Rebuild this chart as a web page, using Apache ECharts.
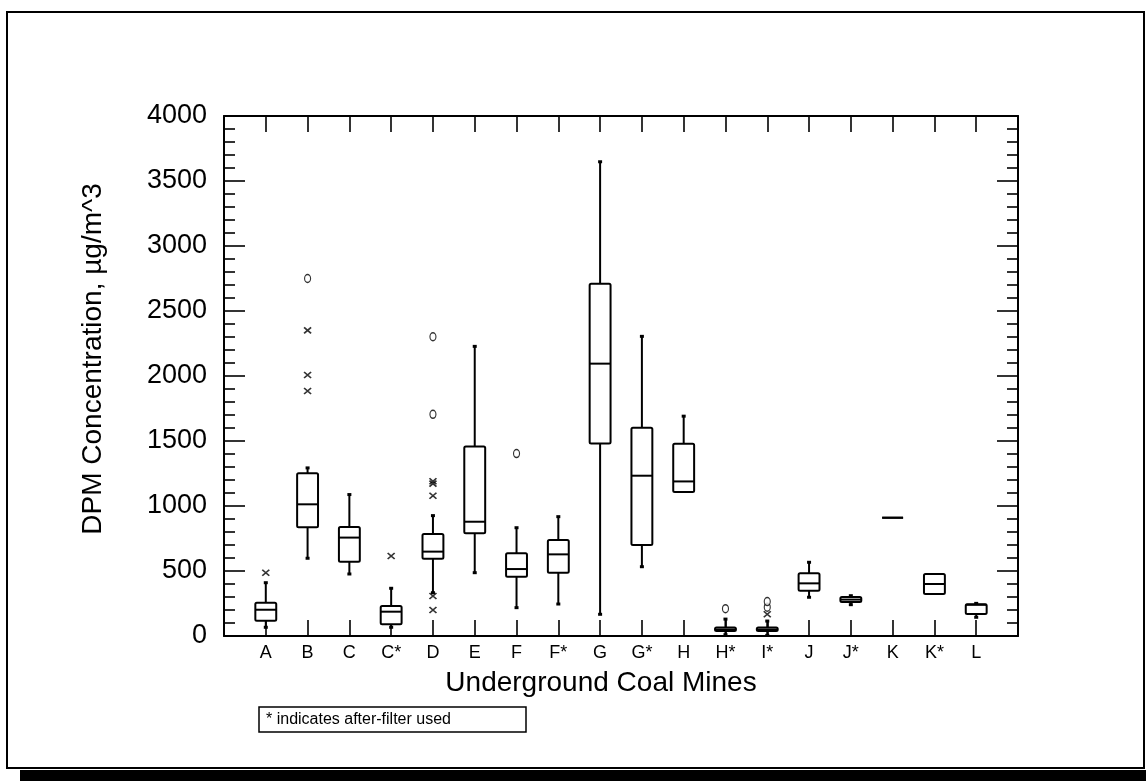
<!DOCTYPE html>
<html>
<head>
<meta charset="utf-8">
<script src="https://cdn.jsdelivr.net/npm/echarts@6/dist/echarts.min.js"></script>
<style>
html,body{margin:0;padding:0;background:#fff;}
#chart{width:1146px;height:781px;}
</style>
</head>
<body>
<div id="chart"></div>
<script>
// ---- data ----
const categories = ['A','B','C','C*','D','E','F','F*','G','G*','H','H*','I*','J','J*','K','K*','L'];
const lowWhisker  = [67, 598, 477, 67, 333, 487, 218, 246, 167, 533, 1107, 10, 5, 298, 241, 910, 323, 144];
const q1          = [118, 836, 572, 90, 595, 790, 456, 487, 1480, 700, 1107, 38, 38, 349, 262, 910, 323, 169];
const median      = [202, 1013, 757, 187, 649, 879, 515, 628, 2095, 1233, 1189, 50, 50, 405, 280, 910, 400, 240];
const q3          = [256, 1252, 838, 231, 785, 1458, 636, 738, 2709, 1601, 1478, 65, 65, 482, 300, 910, 477, 244];
const highWhisker = [410, 1293, 1088, 367, 926, 2228, 833, 918, 3648, 2305, 1691, 130, 115, 567, 310, 910, 477, 251];
// outliers: [category name, value]
const mildOutliers = [['A',487],['B',2351],['B',2008],['B',1885],['C*',615],['D',1190],['D',1172],['D',1079],['D',308],['D',200],['I*',168]];
const extremeOutliers = [['B',2750],['D',2302],['D',1705],['F',1403],['H*',210],['I*',222],['I*',265]];
const yTicks = {min:0, max:4000, interval:500};

const FONT = '"Liberation Sans", Arial, Helvetica, sans-serif';
const chart = echarts.init(document.getElementById('chart'), null, {renderer:'canvas'});

const boxData = categories.map((c,i)=>[i+1, lowWhisker[i], q1[i], median[i], q3[i], highWhisker[i]]);
const pos = name => categories.indexOf(name)+1;

function renderBox(params, api){
  const x = api.value(0);
  const lo = api.coord([x, api.value(1)]);
  const b1 = api.coord([x, api.value(2)]);
  const md = api.coord([x, api.value(3)]);
  const b3 = api.coord([x, api.value(4)]);
  const hi = api.coord([x, api.value(5)]);
  const cx = lo[0];
  const hw = api.size([1,0])[0]*0.25;
  const st = {stroke:'#000', lineWidth:2, fill:'none'};
  const kids = [];
  if (hi[1] < b3[1]-0.5){
    kids.push({type:'line', shape:{x1:cx,y1:b3[1],x2:cx,y2:hi[1]}, style:st});
    kids.push({type:'line', shape:{x1:cx-2,y1:hi[1],x2:cx+2,y2:hi[1]}, style:{stroke:'#000',lineWidth:3}});
  }
  if (lo[1] > b1[1]+0.5){
    kids.push({type:'line', shape:{x1:cx,y1:b1[1],x2:cx,y2:lo[1]}, style:st});
    kids.push({type:'line', shape:{x1:cx-2,y1:lo[1],x2:cx+2,y2:lo[1]}, style:{stroke:'#000',lineWidth:3}});
  }
  kids.push({type:'rect', shape:{x:cx-hw, y:b3[1], width:2*hw, height:b1[1]-b3[1], r:1.5}, style:{stroke:'#000', lineWidth:2, fill:'#fff'}});
  kids.push({type:'line', shape:{x1:cx-hw,y1:md[1],x2:cx+hw,y2:md[1]}, style:st});
  return {type:'group', children:kids};
}

const tickFmt = v => (v>=1 && v<=categories.length) ? categories[v-1] : '';
const axisLineStyle = {color:'#000', width:2};

chart.setOption({
  backgroundColor:'#fff',
  animation:false,
  grid:{left:224, right:128, top:116, bottom:145, outerBoundsMode:'none'},
  xAxis:[
    {type:'value', position:'bottom', min:0, max:categories.length+1, interval:1,
     axisLine:{show:true, onZero:false, lineStyle:axisLineStyle},
     axisTick:{show:true, inside:true, length:16, lineStyle:{color:'#000', width:1.6}},
     axisLabel:{formatter:tickFmt, color:'#000', fontFamily:FONT, fontSize:18, margin:8},
     splitLine:{show:false}},
    {type:'value', position:'top', min:0, max:categories.length+1, interval:1,
     axisLine:{show:true, onZero:false, lineStyle:axisLineStyle},
     axisTick:{show:true, inside:true, length:16, lineStyle:{color:'#000', width:1.6}},
     axisLabel:{show:false}, splitLine:{show:false}}
  ],
  yAxis:[
    {type:'value', position:'left', min:yTicks.min, max:yTicks.max, interval:yTicks.interval,
     axisLine:{show:true, onZero:false, lineStyle:axisLineStyle},
     axisTick:{show:true, inside:true, length:21, lineStyle:{color:'#000', width:1.6}},
     minorTick:{show:true, splitNumber:5, length:11, lineStyle:{color:'#000', width:1.6}},
     axisLabel:{color:'#000', fontFamily:FONT, fontSize:27, margin:17, formatter:v=>String(v)},
     splitLine:{show:false}, minorSplitLine:{show:false}},
    {type:'value', position:'right', min:yTicks.min, max:yTicks.max, interval:yTicks.interval,
     axisLine:{show:true, onZero:false, lineStyle:axisLineStyle},
     axisTick:{show:true, inside:true, length:21, lineStyle:{color:'#000', width:1.6}},
     minorTick:{show:true, splitNumber:5, length:11, lineStyle:{color:'#000', width:1.6}},
     axisLabel:{show:false}, splitLine:{show:false}, minorSplitLine:{show:false}}
  ],
  series:[
    {type:'custom', name:'box', xAxisIndex:0, yAxisIndex:0, renderItem:renderBox, data:boxData, clip:false, z:3},
    {type:'scatter', name:'mild', xAxisIndex:0, yAxisIndex:0, z:4,
     data:mildOutliers.map(o=>[pos(o[0]), o[1]]),
     symbol:'path://M0,0L10,10M10,0L0,10', symbolSize:[7,6],
     itemStyle:{color:'rgba(0,0,0,0)', borderColor:'#000', borderWidth:1.6}},
    {type:'scatter', name:'extreme', xAxisIndex:0, yAxisIndex:0, z:4,
     data:extremeOutliers.map(o=>[pos(o[0]), o[1]]),
     symbol:'circle', symbolSize:[6,8],
     itemStyle:{color:'#fff', borderColor:'#000', borderWidth:1.3}}
  ],
  graphic:[
    {type:'rect', shape:{x:7, y:12, width:1137, height:756}, style:{fill:'none', stroke:'#000', lineWidth:2}, z:-1},
    {type:'rect', shape:{x:20, y:770, width:1126, height:11}, style:{fill:'#000'}, z:-1},
    {type:'text', x:93, y:359, rotation:Math.PI/2,
     style:{text:'DPM Concentration, µg/m^3', font:'28px '+FONT, fill:'#000', align:'center', verticalAlign:'middle'}},
    {type:'text', x:601, y:683,
     style:{text:'Underground Coal Mines', font:'28px '+FONT, fill:'#000', align:'center', verticalAlign:'middle'}},
    {type:'rect', shape:{x:259, y:707, width:267, height:25}, style:{fill:'#fff', stroke:'#000', lineWidth:1.5}},
    {type:'text', x:266, y:720,
     style:{text:'* indicates after-filter used', font:'16px '+FONT, fill:'#000', align:'left', verticalAlign:'middle'}}
  ]
});
</script>
</body>
</html>
